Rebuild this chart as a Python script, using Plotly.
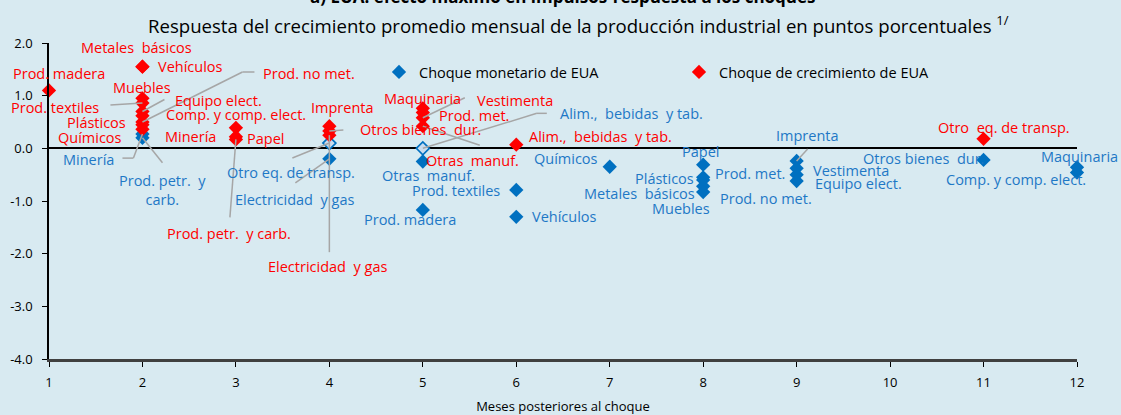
import plotly.graph_objects as go

# ---------------- data ----------------
months = list(range(1, 13))
y_ticks = [-4, -3, -2, -1, 0, 1, 2]

# Choque monetario de EUA (blue)
mon_names = ["Minería", "Prod. petr.  y carb.", "Otro eq. de transp.", "Electricidad  y gas",
             "Otras  manuf.", "Alim.,  bebidas  y tab.", "Prod. madera", "Prod. textiles",
             "Vehículos", "Químicos", "Papel", "Prod. met.", "Plásticos", "Metales  básicos",
             "Muebles", "Imprenta", "Vestimenta", "Equipo elect.", "Prod. no met.",
             "Otros bienes  dur.", "Maquinaria", "Comp. y comp. elect."]
mon_month = [2, 2, 4, 4, 5, 5, 5, 6, 6, 7, 8, 8, 8, 8, 8, 9, 9, 9, 9, 11, 12, 12]
mon_value = [0.27, 0.20, 0.10, -0.20, -0.25, 0.00, -1.17, -0.79, -1.30, -0.35, -0.31, -0.55,
             -0.60, -0.72, -0.83, -0.24, -0.38, -0.50, -0.62, -0.22, -0.36, -0.46]

# Choque de crecimiento de EUA (red)
gro_names = ["Prod. madera", "Metales  básicos", "Vehículos", "Muebles", "Prod. textiles",
             "Equipo elect.", "Comp. y comp. elect.", "Prod. no met.", "Plásticos", "Químicos",
             "Minería", "Papel", "Prod. petr.  y carb.", "Imprenta", "Otros bienes  dur.",
             "Electricidad  y gas", "Maquinaria", "Prod. met.", "Vestimenta", "Otras  manuf.",
             "Alim.,  bebidas  y tab.", "Otro  eq. de transp."]
gro_month = [1, 2, 2, 2, 2, 2, 2, 2, 2, 2, 3, 3, 3, 4, 4, 4, 5, 5, 5, 5, 6, 11]
gro_value = [1.10, 1.55, 1.55, 0.95, 0.86, 0.70, 0.62, 0.50, 0.45, 0.36, 0.39, 0.22, 0.17,
             0.42, 0.33, 0.25, 0.76, 0.68, 0.58, 0.42, 0.07, 0.18]

# ---------------- style / layout ----------------
BG = "#D8EAF1"
BLUE = "#0070C0"
BLUE_TXT = "#1E78C6"
RED = "#FF0000"
GRAY = "#A6A6A6"
FONT = "Open Sans"
LAB_SIZE = 14.5

L, R, T, B = 49, 44, 43, 56
W, H = 1121, 415
PW = W - L - R
PX = PW / 11.0               # pixels per month
PY = (H - T - B) / 6.0       # pixels per unit

hollow = {"Otro eq. de transp.", "Alim.,  bebidas  y tab."}

# label offsets (dx, dy screen pixels from point) and leader polylines (pixel offsets)
mon_lab = {
    "Minería": ((-54, 25), [(-20, 24), (-9, 24), (0, 0)]),
    "Prod. petr.  y carb.": ((20, 52), [(20, 25), (0, 0)]),
    "Otro eq. de transp.": ((-38, 29), [(-37, 15), (0, 0)]),
    "Electricidad  y gas": ((-35, 41), [(-34, 24), (0, 0)]),
    "Otras  manuf.": ((6, 14), None),
    "Alim.,  bebidas  y tab.": ((209, -35), [(124, -35), (114, -35), (0, 0)]),
    "Prod. madera": ((-13, 10), None),
    "Prod. textiles": ((-60, 1), None),
    "Vehículos": ((48, 0), None),
    "Químicos": ((-44, -8), None),
    "Papel": ((-3, -13), None),
    "Prod. met.": ((47, -4), None),
    "Plásticos": ((-39, -1), None),
    "Metales  básicos": ((-64, 7), None),
    "Muebles": ((-22, 16), None),
    "Imprenta": ((11, -25), [(11, -12), (0, 0)]),
    "Vestimenta": ((54, 2), None),
    "Equipo elect.": ((62, 9), None),
    "Prod. no met.": ((-31, 18), None),
    "Otros bienes  dur.": ((-60, -1), None),
    "Maquinaria": ((2, -11), None),
    "Comp. y comp. elect.": ((-61, 7), None),
}
gro_lab = {
    "Prod. madera": ((10, -17), None),
    "Metales  básicos": ((-6, -19), None),
    "Vehículos": ((48, 0), None),
    "Muebles": ((0, -11), None),
    "Prod. textiles": ((-87, 4), [(-32, 2), (0, 0)]),
    "Equipo elect.": ((76, -11), [(22, -12), (0, 0)]),
    "Comp. y comp. elect.": ((94, -1), None),
    "Prod. no met.": ((167, -49), [(112, -50), (100, -50), (0, 0)]),
    "Plásticos": ((-46, -2), None),
    "Químicos": ((-52, 8), None),
    "Minería": ((-45, 9), None),
    "Papel": ((30, 2), None),
    "Prod. petr.  y carb.": ((-7, 94), [(-6, 78), (0, 0)]),
    "Imprenta": ((13, -19), None),
    "Otros bienes  dur.": ((91, -1), [(0, 0), (14, -1)]),
    "Electricidad  y gas": ((-2, 131), [(0, 117), (0, 0)]),
    "Maquinaria": ((0, -10), None),
    "Prod. met.": ((51, 3), None),
    "Vestimenta": ((92, -17), [(42, -20), (0, 0)]),
    "Otras  manuf.": ((50, 34), [(57, 19), (0, 0)]),
    "Alim.,  bebidas  y tab.": ((84, -8), None),
    "Otro  eq. de transp.": ((20, -11), None),
}

fig = go.Figure()

solid_idx = [i for i, n in enumerate(mon_names) if n not in hollow]
hol_idx = [i for i, n in enumerate(mon_names) if n in hollow]

fig.add_trace(go.Scatter(
    x=[mon_month[i] for i in solid_idx], y=[mon_value[i] for i in solid_idx],
    mode="markers", name="Choque monetario de EUA",
    marker=dict(symbol="diamond", size=11, color=BLUE, line=dict(width=0)),
    cliponaxis=False, hoverinfo="skip"))
fig.add_trace(go.Scatter(
    x=[mon_month[i] for i in hol_idx], y=[mon_value[i] for i in hol_idx],
    mode="markers", showlegend=False,
    marker=dict(symbol="diamond", size=10, color="#C9DCEF", line=dict(width=1.6, color=BLUE)),
    cliponaxis=False, hoverinfo="skip"))
fig.add_trace(go.Scatter(
    x=gro_month, y=gro_value, mode="markers", name="Choque de crecimiento de EUA",
    marker=dict(symbol="diamond", size=11, color=RED, line=dict(width=0)),
    cliponaxis=False, hoverinfo="skip"))

annotations = []
shapes = []


def add_labels(names, mon, val, lab, color):
    for n, m, v in zip(names, mon, val):
        (dx, dy), leader = lab[n]
        text = n
        if n == "Prod. petr.  y carb." and color == BLUE_TXT:
            text = "Prod. petr.  y<br>carb."
        annotations.append(dict(
            x=m, y=v, xref="x", yref="y", text=text, showarrow=False,
            xshift=dx, yshift=-dy, xanchor="center", yanchor="middle",
            font=dict(family=FONT, size=LAB_SIZE, color=color)))
        if leader:
            for (ax0, ay0), (ax1, ay1) in zip(leader[:-1], leader[1:]):
                shapes.append(dict(
                    type="line", xref="x", yref="y",
                    x0=m + ax0 / PX, y0=v - ay0 / PY,
                    x1=m + ax1 / PX, y1=v - ay1 / PY,
                    line=dict(color=GRAY, width=1.5)))


add_labels(mon_names, mon_month, mon_value, mon_lab, BLUE_TXT)
add_labels(gro_names, gro_month, gro_value, gro_lab, RED)

# titles
annotations.append(dict(
    x=0.5, y=1.0, xref="paper", yref="paper", yshift=T + 4, xanchor="center", yanchor="middle",
    text="<b>a) EUA: efecto máximo en impulsos-respuesta a los choques</b>", showarrow=False,
    font=dict(family=FONT, size=17, color="black")))
annotations.append(dict(
    x=(578 - L) / PW, y=1.0, xref="paper", yref="paper", yshift=T - 24,
    xanchor="center", yanchor="middle",
    text="Respuesta del crecimiento promedio mensual de la producción industrial en puntos porcentuales <sup>1/</sup>",
    showarrow=False, font=dict(family=FONT, size=18.6, color="black")))

fig.update_layout(
    width=W, height=H,
    margin=dict(l=L, r=R, t=T, b=B, pad=0, autoexpand=False),
    paper_bgcolor=BG, plot_bgcolor=BG,
    font=dict(family=FONT, color="black"),
    annotations=annotations, shapes=shapes,
    showlegend=True,
    legend=dict(orientation="h", x=(379 - L) / PW, y=(H - B - 72) / (H - T - B),
                xanchor="left", yanchor="middle", bgcolor="rgba(0,0,0,0)",
                font=dict(family=FONT, size=14.5, color="black"),
                entrywidth=255, entrywidthmode="pixels", itemwidth=30),
)

fig.update_xaxes(
    range=[1, 12], tickvals=months, ticktext=[str(m) for m in months],
    showgrid=False, zeroline=False, showline=True, linecolor="#404040", linewidth=3,
    ticks="outside", ticklen=5, tickcolor="black", tickwidth=1, automargin=False,
    ticklabelstandoff=4,
    tickfont=dict(family=FONT, size=13, color="black"),
    title=dict(text="Meses posteriores al choque", font=dict(family=FONT, size=13, color="black"),
               standoff=14))
fig.update_yaxes(
    range=[-4, 2], tickvals=y_ticks, ticktext=[f"{v:.1f}" for v in y_ticks], automargin=False,
    showgrid=False, zeroline=True, zerolinecolor="black", zerolinewidth=1.5,
    showline=True, linecolor="black", linewidth=1.5,
    ticks="outside", ticklen=5, tickcolor="black", ticklabelstandoff=7,
    tickfont=dict(family=FONT, size=13, color="black"))

fig.write_html(
    "out.html",
    config={"displayModeBar": False},
    post_script="document.body.style.margin='0';document.body.style.background='" + BG + "';",
)
